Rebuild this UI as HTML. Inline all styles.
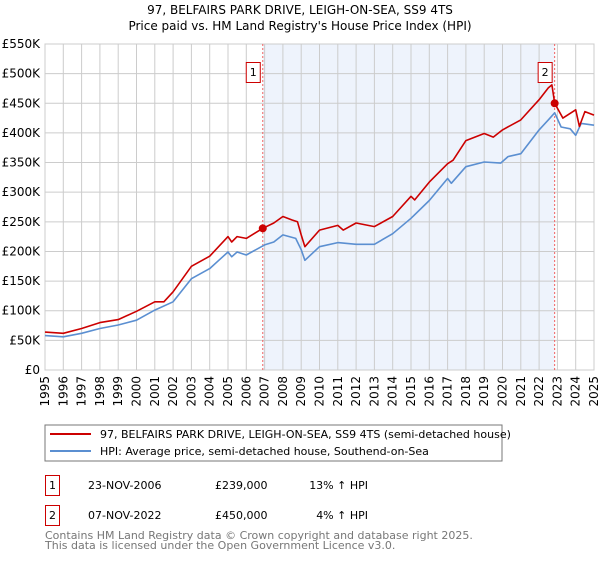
<!DOCTYPE html>
<html><head><meta charset="utf-8"><style>
body{margin:0;background:#fff;font-family:"DejaVu Sans","Liberation Sans",sans-serif;}
svg text{font-family:"DejaVu Sans","Liberation Sans",sans-serif;}
</style></head><body>
<svg id="c" width="600" height="560" viewBox="0 0 600 560" xmlns="http://www.w3.org/2000/svg">
<text x="300" y="14" text-anchor="middle" font-size="12">97, BELFAIRS PARK DRIVE, LEIGH-ON-SEA, SS9 4TS</text>
<text x="300" y="30" text-anchor="middle" font-size="12">Price paid vs. HM Land Registry's House Price Index (HPI)</text>
<g id="plot"></g>
<rect x="45" y="425" width="457" height="36" fill="none" stroke="#777"/>
<line x1="50" y1="434" x2="91" y2="434" stroke="#cc0000" stroke-width="2"/>
<text x="100" y="438" font-size="11">97, BELFAIRS PARK DRIVE, LEIGH-ON-SEA, SS9 4TS (semi-detached house)</text>
<line x1="50" y1="451" x2="91" y2="451" stroke="#5b8fd1" stroke-width="2"/>
<text x="100" y="455" font-size="11">HPI: Average price, semi-detached house, Southend-on-Sea</text>
<rect x="45.5" y="475.5" width="14" height="20" fill="#fff" stroke="#cc0000"/>
<text x="52.5" y="489" font-size="11" text-anchor="middle">1</text>
<text x="88" y="489" font-size="11">23-NOV-2006</text>
<text x="215" y="489" font-size="11">£239,000</text>
<text x="368" y="489" font-size="11" text-anchor="end">13% ↑ HPI</text>
<rect x="45.5" y="505.5" width="14" height="20" fill="#fff" stroke="#cc0000"/>
<text x="52.5" y="519" font-size="11" text-anchor="middle">2</text>
<text x="88" y="519" font-size="11">07-NOV-2022</text>
<text x="215" y="519" font-size="11">£450,000</text>
<text x="368" y="519" font-size="11" text-anchor="end">4% ↑ HPI</text>
<text x="45" y="539" font-size="11" fill="#777">Contains HM Land Registry data © Crown copyright and database right 2025.</text>
<text x="45" y="549" font-size="11" fill="#777">This data is licensed under the Open Government Licence v3.0.</text>
</svg>
<script>
const hpiYears=[1995,1996,1997,1998,1999,2000,2001,2002,2003,2004,2004.5,2005,2005.2,2005.5,2006,2007,2007.5,2008,2008.7,2009,2009.2,2010,2011,2012,2013,2014,2015,2016,2017,2017.2,2018,2019,2019.9,2020.3,2021,2022,2022.5,2022.85,2023.2,2023.7,2024,2024.3,2025];
const hpiValues=[58,56,62,70,76,84,101,115,154,171,185,199,191,199,194,211,216,228,222,203,185,208,215,212,212,230,256,286,323,315,343,351,349,360,365,405,422,434,410,407,396,416,413];
const ppYears=[1995,1996,1997,1998,1999,2000,2001,2001.5,2002,2003,2004,2005,2005.2,2005.5,2006,2006.9,2007.5,2008,2008.5,2008.8,2009,2009.2,2010,2011,2011.3,2012,2013,2014,2015,2015.2,2016,2017,2017.3,2018,2019,2019.5,2020,2021,2022,2022.5,2022.7,2022.85,2023.3,2024,2024.2,2024.5,2025];
const ppValues=[64,62,70,80,85,99,115,115,132,175,192,225,216,225,222,239,248,259,253,250,228,208,236,244,236,248,242,259,293,287,317,348,354,387,399,393,405,422,456,476,481,450,425,439,411,436,430];
const yTicks=[0,50,100,150,200,250,300,350,400,450,500,550];
const yTickLabels=["£0","£50K","£100K","£150K","£200K","£250K","£300K","£350K","£400K","£450K","£500K","£550K"];
const xTicks=[1995,1996,1997,1998,1999,2000,2001,2002,2003,2004,2005,2006,2007,2008,2009,2010,2011,2012,2013,2014,2015,2016,2017,2018,2019,2020,2021,2022,2023,2024,2025];
const saleYears=[2006.9,2022.85];
const saleValues=[239,450];
const saleLabels=["1","2"];
const X0=45,X1=594,Y0=370,Y1=44;
const xs=v=>X0+(v-1995)/30*(X1-X0);
const ys=v=>Y0-v/550*(Y0-Y1);
const NS="http://www.w3.org/2000/svg";
const g=document.getElementById('plot');
function mk(t,a){const e=document.createElementNS(NS,t);for(const k in a)e.setAttribute(k,a[k]);g.appendChild(e);return e;}
let r=mk('rect',{x:xs(saleYears[0]),y:Y1,width:xs(saleYears[1])-xs(saleYears[0]),height:Y0-Y1,fill:'#eef3fc'});


yTicks.forEach((v,i)=>{
 let l=mk('line',{x1:X0,x2:X1,y1:ys(v),y2:ys(v),stroke:'#ccc'});
 
 
 let t=mk('text',{x:40,y:ys(v)+4,'text-anchor':'end','font-size':12});
 t.textContent=yTickLabels[i];
 
 
});
xTicks.forEach(v=>{
 let l=mk('line',{x1:xs(v),x2:xs(v),y1:Y1,y2:Y0,stroke:'#ccc'});
 
 
 let t=mk('text',{x:0,y:0,'text-anchor':'end','font-size':12,transform:`translate(${xs(v)+4},376) rotate(-90)`});
 t.textContent=v;
 
 
});
let f=mk('rect',{x:X0,y:Y1,width:X1-X0,height:Y0-Y1,fill:'none',stroke:'#ccc'});


saleYears.forEach((v,i)=>{
 let l=mk('line',{x1:xs(v),x2:xs(v),y1:Y1,y2:Y0,stroke:'#f06060','stroke-dasharray':'2,2'});
 
 
});
function path(xa,va,col,name){
 let d=xa.map((x,i)=>(i?'L':'M')+xs(x).toFixed(1)+','+ys(va[i]).toFixed(1)).join('');
 let p=mk('path',{d:d,fill:'none',stroke:col,'stroke-width':1.6,'stroke-linejoin':'round'});
 
 
}
path(hpiYears,hpiValues,'#5b8fd1','hpi-line');
path(ppYears,ppValues,'#cc0000','property-price-line');
saleYears.forEach((v,i)=>{
 let c=mk('circle',{cx:xs(v),cy:ys(saleValues[i]),r:4,fill:'#cc0000'});
 
 
 let b=mk('rect',{x:xs(v)-16.5,y:62.5,width:14,height:20,fill:'#fff',stroke:'#cc0000'});
 
 
 let t=mk('text',{x:xs(v)-9.5,y:76,'text-anchor':'middle','font-size':11});
 t.textContent=saleLabels[i];
 
 
});
</script>
</body></html>
